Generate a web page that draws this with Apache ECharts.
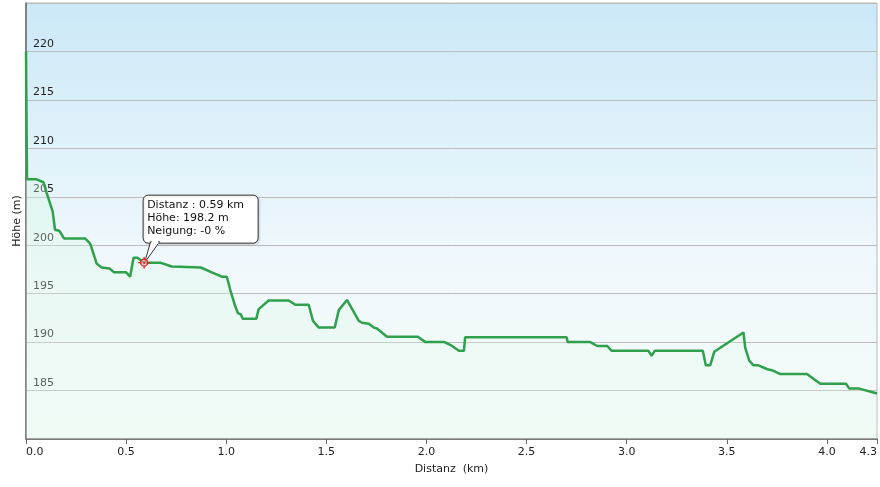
<!DOCTYPE html>
<html>
<head>
<meta charset="utf-8">
<script src="https://cdn.jsdelivr.net/npm/echarts@6/dist/echarts.min.js"></script>
<style>
html,body{margin:0;padding:0;background:#fff;}
#c{width:880px;height:487px;}
</style>
</head>
<body>
<div id="c"></div>
<script>
// Distance (km)
var distanz = [0.000,0.005,0.053,0.087,0.103,0.133,0.145,0.166,0.190,0.295,0.320,0.353,0.378,0.417,0.440,0.500,0.520,0.537,0.557,0.590,0.670,0.728,0.873,0.928,0.978,1.003,1.020,1.045,1.058,1.073,1.083,1.150,1.162,1.212,1.312,1.345,1.412,1.433,1.462,1.542,1.562,1.603,1.662,1.678,1.712,1.737,1.753,1.803,1.957,1.995,2.090,2.128,2.162,2.187,2.193,2.700,2.705,2.818,2.853,2.903,2.925,3.108,3.125,3.140,3.380,3.395,3.417,3.437,3.583,3.592,3.612,3.633,3.658,3.703,3.725,3.767,3.900,3.967,4.095,4.112,4.162,4.250];
// Elevation (m)
var hoehe = [220.0,206.8,206.8,206.5,205.4,203.5,201.6,201.5,200.7,200.7,200.2,198.1,197.7,197.6,197.2,197.2,196.75,198.7,198.7,198.2,198.2,197.8,197.7,197.2,196.75,196.75,195.4,193.7,193.0,192.85,192.4,192.4,193.4,194.3,194.3,193.85,193.85,192.2,191.5,191.5,193.3,194.35,192.2,192.0,191.9,191.5,191.4,190.55,190.55,190.0,190.0,189.6,189.1,189.1,190.5,190.5,190.0,190.0,189.6,189.6,189.1,189.1,188.6,189.1,189.1,187.6,187.6,189.0,191.0,189.4,188.1,187.6,187.6,187.2,187.1,186.7,186.7,185.7,185.7,185.2,185.2,184.7];
// Highlighted point
var tipPoint = {distanz: 0.59, hoehe: 198.2, neigung: '-0'};
var tipLines = ['Distanz : 0.59 km', 'Höhe: 198.2 m', 'Neigung: -0 %'];
var yAxisName = 'Höhe (m)';
var xAxisName = 'Distanz  (km)';

var data = distanz.map(function(d, i){ return [d, hoehe[i]]; });
var FONT = 'DejaVu Sans';

var chart = echarts.init(document.getElementById('c'), null, {renderer: 'canvas'});
chart.setOption({
  animation: false,
  textStyle: {fontFamily: FONT},
  grid: {
    left: 26, right: 2, top: 3, bottom: 48,
    show: true,
    borderColor: '#b8b8b8',
    borderWidth: 1,
    backgroundColor: new echarts.graphic.LinearGradient(0, 0, 0, 1, [
      {offset: 0, color: '#cbe8f7'},
      {offset: 0.35, color: '#e1f2fa'},
      {offset: 0.6, color: '#f0f8fc'},
      {offset: 1, color: '#f4fbf9'}
    ])
  },
  xAxis: {
    type: 'value',
    min: 0, max: 4.25, interval: 0.5,
    name: xAxisName,
    nameLocation: 'middle',
    nameGap: 25,
    nameTextStyle: {fontFamily: FONT, fontSize: 11, color: '#222'},
    axisLine: {show: true, lineStyle: {color: '#666', width: 1.5}},
    axisTick: {show: true, length: 5, lineStyle: {color: '#666', width: 1}},
    splitLine: {show: false},
    axisLabel: {
      fontFamily: FONT, fontSize: 11, color: '#222', margin: 8,
      showMinLabel: true, showMaxLabel: true,
      alignMinLabel: 'left', alignMaxLabel: 'right',
      formatter: function(v){ return v.toFixed(1); }
    }
  },
  yAxis: {
    type: 'value',
    min: 180, max: 225, interval: 5,
    axisLine: {show: true, lineStyle: {color: '#666', width: 1.5}},
    axisTick: {show: false},
    splitLine: {show: true, lineStyle: {color: '#bcbcbc', width: 1}},
    axisLabel: {
      inside: true, fontFamily: FONT, fontSize: 11, color: '#222',
      margin: 7, verticalAlign: 'bottom', padding: [0, 0, 2, 0],
      formatter: function(v){ return (v <= 180 || v >= 225) ? '' : String(v); }
    }
  },
  series: [{
    type: 'line',
    data: data,
    showSymbol: false,
    smooth: false,
    lineStyle: {color: '#2fa04c', width: 2.5},
    itemStyle: {color: '#2fa04c'},
    areaStyle: {
      color: new echarts.graphic.LinearGradient(0, 0, 0, 1, [
        {offset: 0, color: 'rgba(205,245,215,0.5)'},
        {offset: 1, color: 'rgba(228,250,236,0.4)'}
      ])
    },
    z: 3
  }]
});

var p = chart.convertToPixel({gridIndex: 0}, [tipPoint.distanz, tipPoint.hoehe]);
var yMid = chart.convertToPixel({gridIndex: 0}, [0, 202.5]);
var L = -1.5, W = 115, T = -68, H = 48, B = T + H;

chart.setOption({
  graphic: [{
    type: 'text',
    x: yMid[0] - 9, y: yMid[1],
    rotation: Math.PI / 2,
    style: {
      text: yAxisName, fontFamily: FONT, fontSize: 11, fill: '#222',
      align: 'center', verticalAlign: 'middle'
    }
  }, {
    type: 'group',
    x: p[0], y: p[1],
    z: 100,
    children: [
      {
        type: 'rect',
        shape: {x: L + 0.5, y: T + 0.5, width: W, height: H, r: 5},
        style: {fill: '#ffffff', stroke: '#333333', lineWidth: 1, shadowBlur: 2, shadowColor: 'rgba(0,0,0,0.15)', shadowOffsetX: 1, shadowOffsetY: 1},
        z: 2
      },
      {
        type: 'polygon',
        shape: {points: [[6.5, B - 1], [0.5, 0], [15.5, B - 1]]},
        style: {fill: '#ffffff', stroke: '#333333', lineWidth: 1},
        z: 3
      },
      {
        type: 'rect',
        shape: {x: 7.6, y: B - 2.5, width: 6.6, height: 3.6},
        style: {fill: '#ffffff'},
        z: 4
      },
      {
        type: 'text',
        x: 3, y: -64,
        style: {
          text: tipLines.join('\n'),
          fontFamily: FONT, fontSize: 11, lineHeight: 13,
          fill: '#111', verticalAlign: 'top', align: 'left'
        },
        z: 5
      },
      {type: 'circle', shape: {cx: 0, cy: 0, r: 3.5}, style: {fill: 'rgba(255,170,170,0.6)', stroke: '#e02020', lineWidth: 1.3}, z: 10},
      {type: 'line', shape: {x1: -6, y1: 0, x2: -3, y2: 0}, style: {stroke: '#e02020', lineWidth: 1.2}, z: 10},
      {type: 'line', shape: {x1: 3, y1: 0, x2: 6, y2: 0}, style: {stroke: '#e02020', lineWidth: 1.2}, z: 10},
      {type: 'line', shape: {x1: 0, y1: -6, x2: 0, y2: -3}, style: {stroke: '#e02020', lineWidth: 1.2}, z: 10},
      {type: 'line', shape: {x1: 0, y1: 3, x2: 0, y2: 6}, style: {stroke: '#e02020', lineWidth: 1.2}, z: 10},
      {type: 'circle', shape: {cx: 0, cy: 0, r: 1}, style: {fill: '#e02020'}, z: 11}
    ]
  }]
});
</script>
</body>
</html>
